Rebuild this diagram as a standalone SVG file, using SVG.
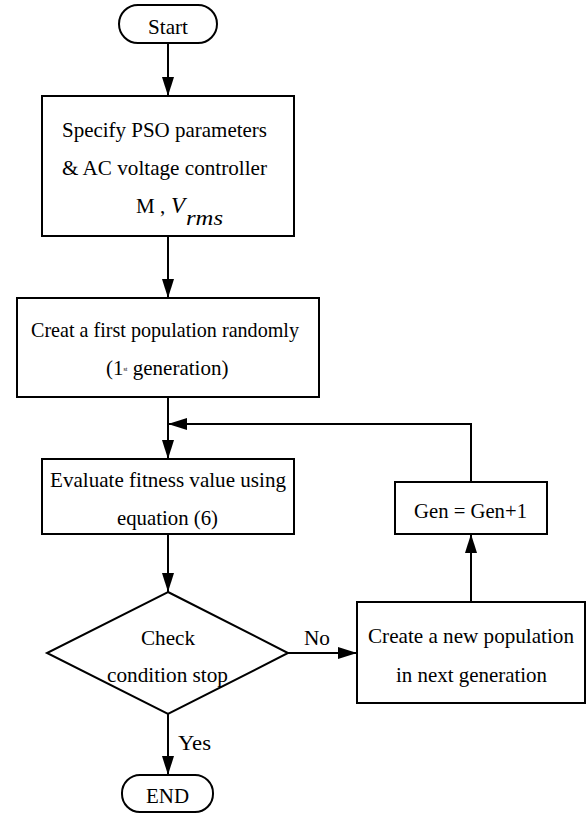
<svg xmlns="http://www.w3.org/2000/svg" width="587" height="814" viewBox="0 0 587 814">
<style>
.shape{fill:#fff;stroke:#000;stroke-width:2}
.t{font-family:'Liberation Serif','Times New Roman',Times,'DejaVu Serif',serif;font-size:21px;fill:#000}
.it{font-style:italic}
.c{fill:none;stroke:#000;stroke-width:2}
</style>
<defs>
<marker id="ah" markerUnits="userSpaceOnUse" markerWidth="19" markerHeight="12" refX="19" refY="6" orient="auto">
<path d="M0,0 L19,6 L0,12 z" fill="#000"/>
</marker>
</defs>
<rect width="587" height="814" fill="#fff"/>
<g id="connectors">
<path class="c" d="M168,43 V96" marker-end="url(#ah)"/>
<path class="c" d="M168,236 V298" marker-end="url(#ah)"/>
<path class="c" d="M168,397 V459" marker-end="url(#ah)"/>
<path class="c" d="M168,534 V592" marker-end="url(#ah)"/>
<path class="c" d="M288,653 H357" marker-end="url(#ah)"/>
<path class="c" d="M471,602 V534" marker-end="url(#ah)"/>
<path class="c" d="M471,482 V424 H168" marker-end="url(#ah)"/>
<path class="c" d="M168,714 V775" marker-end="url(#ah)"/>
<text class="t" x="304" y="645" textLength="26" lengthAdjust="spacingAndGlyphs">No</text>
<text class="t" x="178" y="750" textLength="33" lengthAdjust="spacingAndGlyphs">Yes</text>
</g>
<g id="start">
<rect class="shape" x="119" y="5" width="98" height="38" rx="19"/>
<text class="t" x="148" y="34" textLength="40" lengthAdjust="spacingAndGlyphs">Start</text>
</g>
<g id="specify">
<rect class="shape" x="42" y="96" width="252" height="140"/>
<text class="t" x="62" y="137" textLength="205" lengthAdjust="spacingAndGlyphs">Specify PSO parameters</text>
<text class="t" x="62" y="175" textLength="205" lengthAdjust="spacingAndGlyphs">&amp; AC voltage controller</text>
<text class="t" x="136" y="213">M ,</text>
<text class="t it" x="171" y="213" style="font-size:23px">V</text>
<text class="t it" x="186" y="225" style="font-size:22px" textLength="37" lengthAdjust="spacingAndGlyphs">rms</text>
</g>
<g id="first-population">
<rect class="shape" x="17" y="298" width="302" height="99"/>
<text class="t" x="31" y="337" textLength="268" lengthAdjust="spacingAndGlyphs">Creat a first population randomly</text>
<text class="t" x="106" y="375">(1<tspan style="font-size:6px" dy="-4">st</tspan><tspan dy="4"> generation)</tspan></text>
</g>
<g id="evaluate">
<rect class="shape" x="42" y="459" width="252" height="75"/>
<text class="t" x="50" y="487" textLength="236" lengthAdjust="spacingAndGlyphs">Evaluate fitness value using</text>
<text class="t" x="117" y="525" textLength="101" lengthAdjust="spacingAndGlyphs">equation (6)</text>
</g>
<g id="check">
<polygon class="shape" points="168,592 288,653 168,714 47,653"/>
<text class="t" x="141" y="645" textLength="54" lengthAdjust="spacingAndGlyphs">Check</text>
<text class="t" x="107" y="682" textLength="121" lengthAdjust="spacingAndGlyphs">condition stop</text>
</g>
<g id="new-population">
<rect class="shape" x="357" y="602" width="228" height="101"/>
<text class="t" x="368" y="643" textLength="206" lengthAdjust="spacingAndGlyphs">Create a new population</text>
<text class="t" x="396" y="682" textLength="151" lengthAdjust="spacingAndGlyphs">in next generation</text>
</g>
<g id="gen">
<rect class="shape" x="395" y="482" width="152" height="52"/>
<text class="t" x="414" y="518" textLength="113" lengthAdjust="spacingAndGlyphs">Gen = Gen+1</text>
</g>
<g id="end">
<rect class="shape" x="122" y="775" width="91" height="37" rx="18"/>
<text class="t" x="146" y="803" textLength="43" lengthAdjust="spacingAndGlyphs">END</text>
</g>
</svg>
